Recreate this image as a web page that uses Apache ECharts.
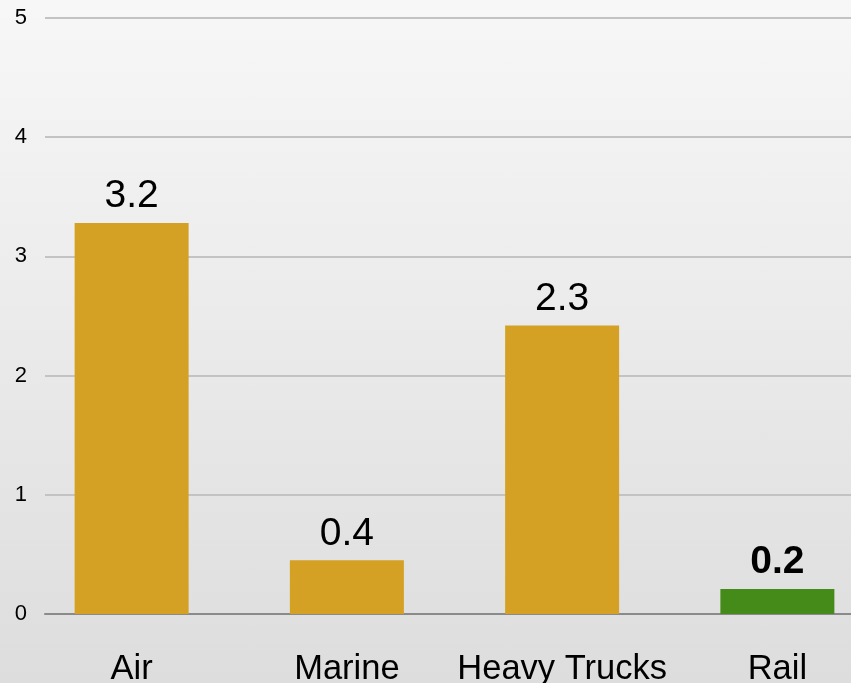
<!DOCTYPE html>
<html>
<head>
<meta charset="utf-8">
<script src="https://cdn.jsdelivr.net/npm/echarts@6/dist/echarts.min.js"></script>
<style>
html,body{margin:0;padding:0;}
#chart{width:851px;height:683px;background:linear-gradient(to bottom,#f7f7f7 0%,#dddddd 100%);}
</style>
</head>
<body>
<div id="chart"></div>
<script>
var categories = ['Air', 'Marine', 'Heavy Trucks', 'Rail'];
var values = [3.28, 0.45, 2.42, 0.21];
var valueLabels = ['3.2', '0.4', '2.3', '0.2'];
var barColors = ['#D4A125', '#D4A125', '#D4A125', '#458B1A'];
var boldLabel = [false, false, false, true];
var yTicks = [0, 1, 2, 3, 4, 5];

var FONT = '"Liberation Sans", Arial, sans-serif';
var chart = echarts.init(document.getElementById('chart'));

var data = values.map(function (v, i) {
  return {
    value: v,
    itemStyle: { color: barColors[i] },
    label: {
      formatter: valueLabels[i],
      fontWeight: boldLabel[i] ? 'bold' : 'normal'
    }
  };
});

chart.setOption({
  animation: false,
  grid: [
    { left: 45, right: 0, top: 18, bottom: 69, outerBoundsMode: 'none' },
    { left: 24, width: 861, top: 18, bottom: 69, outerBoundsMode: 'none' }
  ],
  xAxis: [
    {
      gridIndex: 0, type: 'category', data: categories,
      axisLine: { show: true, lineStyle: { color: '#8a8a8a', width: 2 } },
      axisTick: { show: false }, axisLabel: { show: false }, splitLine: { show: false }
    },
    {
      gridIndex: 1, type: 'category', data: categories,
      axisLine: { show: false }, axisTick: { show: false },
      axisLabel: { show: true, interval: 0, color: '#000', fontFamily: FONT, fontSize: 34.5, margin: 38 }
    }
  ],
  yAxis: [
    {
      gridIndex: 0, type: 'value', min: yTicks[0], max: yTicks[yTicks.length - 1], interval: 1,
      axisLine: { show: false }, axisTick: { show: false },
      axisLabel: { color: '#000', fontFamily: FONT, fontSize: 22, margin: 18 },
      splitLine: { show: true, lineStyle: { color: '#c3c3c3', width: 2 } }
    },
    {
      gridIndex: 1, type: 'value', min: yTicks[0], max: yTicks[yTicks.length - 1], interval: 1,
      show: false, splitLine: { show: false }
    }
  ],
  series: [{
    type: 'bar',
    xAxisIndex: 1, yAxisIndex: 1,
    barWidth: 114,
    data: data,
    label: {
      show: true, position: 'top', distance: 7,
      color: '#000', fontFamily: FONT, fontSize: 39
    }
  }]
});
</script>
</body>
</html>
